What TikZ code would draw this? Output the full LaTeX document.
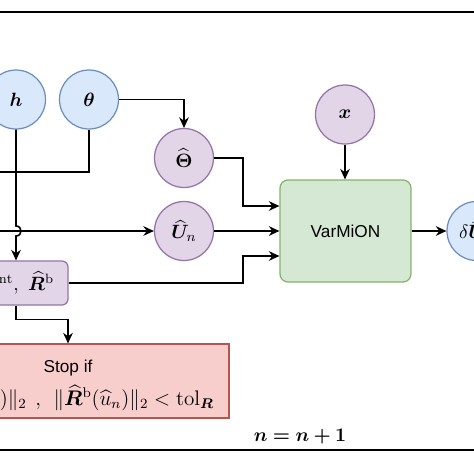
\documentclass[tikz,border=0pt]{standalone}
\usepackage{amsmath}
\usepackage{bm}
\usepackage{fontspec}
\newfontfamily\sansf{Liberation Sans}
\usetikzlibrary{arrows.meta}
\definecolor{bluefill}{HTML}{DAE8FC}
\definecolor{bluedraw}{HTML}{6C8EBF}
\definecolor{purplefill}{HTML}{E1D5E7}
\definecolor{purpledraw}{HTML}{9673A6}
\definecolor{greenfill}{HTML}{D5E8D4}
\definecolor{greendraw}{HTML}{82B366}
\definecolor{redfill}{HTML}{F8CECC}
\definecolor{reddraw}{HTML}{B85450}

\begin{document}
\begin{tikzpicture}[x=0.02cm, y=-0.02cm,
    font=\fontsize{11}{13.6}\selectfont,
    wire/.style={line width=0.9pt},
    conn/.style={wire, -{Stealth[length=6pt,width=5.5pt]}},
    inputc/.style={circle, draw=bluedraw, fill=bluefill, line width=0.7pt,
      minimum size=1.18cm, inner sep=0pt},
    latentc/.style={inputc, draw=purpledraw, fill=purplefill},
    netbox/.style={draw=greendraw, fill=greenfill, line width=0.7pt,
      rounded corners=0.16cm, minimum width=2.62cm, minimum height=2.04cm},
    resbox/.style={draw=purpledraw, fill=purplefill, line width=0.7pt,
      rounded corners=0.12cm, minimum width=2.08cm, minimum height=0.88cm},
    stopbox/.style={draw=reddraw, fill=redfill, line width=0.7pt,
      minimum width=6.44cm, minimum height=1.48cm, align=center}]
  \useasboundingbox (0,0) rectangle (474,474);
  \clip (0,0) rectangle (474,474);
  \fill[white] (0,0) rectangle (474,474);

  % loop frame
  \draw[wire] (-40,12) rectangle (520,450);
  \node (iter) at (300,437) {$\boldsymbol{n = n + 1}$};

  \node[inputc] (h) at (16,99.5) {$\boldsymbol{h}$};
  \node[inputc] (theta) at (89,99.5) {$\boldsymbol{\theta}$};
  \node[latentc] (thetahat) at (184,158) {$\widehat{\boldsymbol{\Theta}}$};
  \node[latentc] (uhat) at (184,231) {$\widehat{\boldsymbol{U}}_n$};
  \node[latentc] (xin) at (345,114.5) {$\boldsymbol{x}$};
  \node[netbox] (varmion) at (345.5,231) {\sansf\fontsize{9.8}{12}\selectfont VarMiON};
  \node[inputc] (delta) at (476.5,231) {$\delta\widehat{\boldsymbol{U}}_n$};
  \node[resbox] (resid) at (16,283)
    {$\widehat{\boldsymbol{R}}^{\mathrm{int}},\ \widehat{\boldsymbol{R}}^{\mathrm{b}}$};
  \node[stopbox] (stop) at (68,381)
    {{\sansf\fontsize{9.8}{12}\selectfont\rule{0pt}{12pt}Stop if}\\[4pt]
     \fontsize{12}{14}\selectfont
     $\|\widehat{\boldsymbol{R}}^{\mathrm{int}}(\widehat{u}_n)\|_2\hspace{5pt},\hspace{5pt}
      \|\widehat{\boldsymbol{R}}^{\mathrm{b}}(\widehat{u}_n)\|_2 < \mathrm{tol}_{\boldsymbol{R}}$};

  \coordinate (uin) at (-20,231);
  \coordinate (thout) at (-20,172);
  \coordinate (hopa) at (16,226);
  \coordinate (hopb) at (16,236);

  \draw[conn] (uin) -- (uhat);
  \draw[conn] (h) -- (hopa) .. controls (22.7,226) and (22.7,236) .. (hopb) -- (resid);
  \draw[wire] (theta) |- (thout);
  \draw[conn] (theta) -| (thetahat);
  \draw[conn] (thetahat) -- (243,158) |- ([yshift=0.5cm]varmion.west);
  \draw[conn] (uhat) -- (varmion);
  \draw[conn] (resid) -- (243,283) |- ([yshift=-0.5cm]varmion.west);
  \draw[conn] (resid.south) -- ++(0,14) -| (stop);
  \draw[conn] (xin) -- (xin |- varmion.north);
  \draw[conn] (varmion) -- (delta);
\end{tikzpicture}
\end{document}
